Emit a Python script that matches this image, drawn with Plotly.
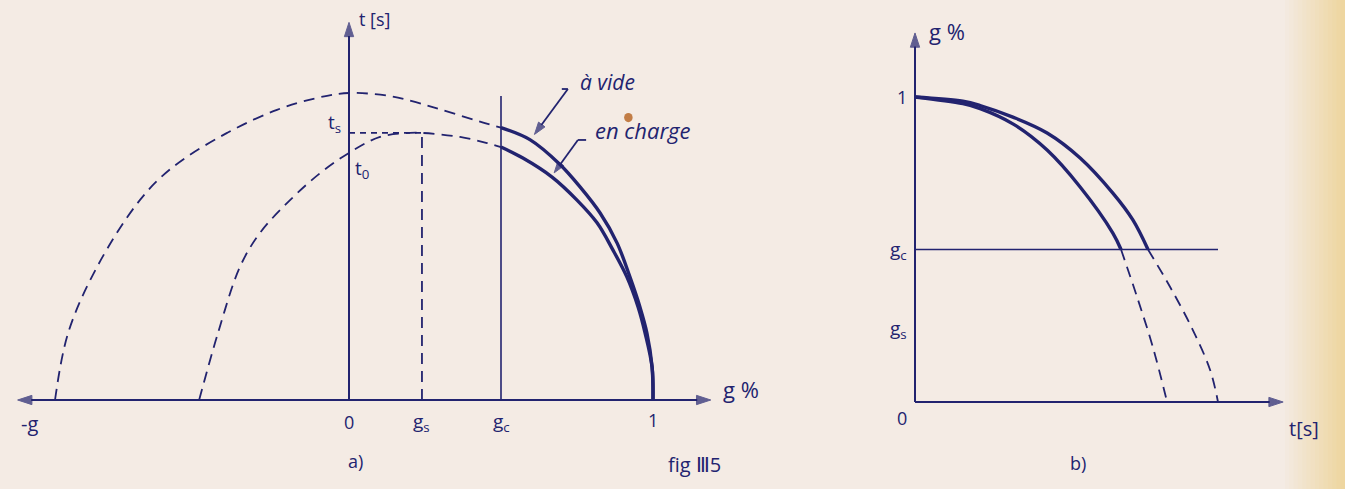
import plotly.graph_objects as go

# ---------------------------------------------------------------- data
# characteristic values (g in per-unit slip, t in relative time units)
G_S = 0.24      # g_s
G_C = 0.50      # g_c
T_S = 0.870     # t_s
T_0 = 0.805     # t_0

# a) t = f(g) -- "à vide"
a_vide_g = [-0.967, -0.924, -0.829, -0.688, -0.579, -0.401, -0.237, -0.105, 0.0,
            0.135, 0.22, 0.299, 0.447, 0.50, 0.595, 0.694, 0.760, 0.826, 0.882,
            0.924, 0.957, 0.980, 0.997, 1.0]
a_vide_t = [0.0, 0.218, 0.433, 0.651, 0.759, 0.870, 0.945, 0.984, 1.0,
            0.990, 0.970, 0.947, 0.902, 0.887, 0.848, 0.767, 0.694, 0.609, 0.511,
            0.401, 0.303, 0.218, 0.107, 0.0]

# a) t = f(g) -- "en charge"
a_charge_g = [-0.493, -0.431, -0.359, -0.293, -0.194, -0.095, 0.0, 0.102, 0.201, 0.24,
              0.365, 0.454, 0.50, 0.572, 0.668, 0.750, 0.816, 0.868, 0.914, 0.951,
              0.974, 0.997, 1.0]
a_charge_t = [0.0, 0.218, 0.433, 0.544, 0.651, 0.739, 0.805, 0.857, 0.870, 0.870,
              0.857, 0.837, 0.824, 0.788, 0.726, 0.651, 0.577, 0.489, 0.401, 0.303,
              0.218, 0.107, 0.0]

# b) g = f(t) -- "à vide"
b_vide_t = [0.0, 0.158, 0.215, 0.323, 0.436, 0.545, 0.653, 0.719, 0.769, 0.842, 0.917, 0.974, 1.0]
b_vide_g = [1.0, 0.986, 0.972, 0.934, 0.882, 0.800, 0.685, 0.597, 0.50, 0.377, 0.236, 0.105, 0.0]

# b) g = f(t) -- "en charge"
b_charge_t = [0.0, 0.158, 0.215, 0.323, 0.436, 0.545, 0.653, 0.680, 0.733, 0.785, 0.832]
b_charge_g = [1.0, 0.978, 0.962, 0.912, 0.826, 0.705, 0.554, 0.50, 0.344, 0.180, 0.0]

# ---------------------------------------------------------------- style
W, H = 1345, 489
INK = "#22236f"
PAPER = "#f4ebe4"
FONT = "Open Sans"
DASH = "11px,7px"

# pixel placement of each panel's origin and scale
A_X0, A_Y0, A_GX, A_TY = 349, 400, 304, 307      # panel a)
B_X0, B_Y0, B_TX, B_GY = 915, 402, 303, 305      # panel b)


def split(xs, ys, key, limit):
    """Split a curve into the part with key <= limit and the part with key >= limit."""
    lo = [(x, y) for x, y, k in zip(xs, ys, key) if k <= limit]
    hi = [(x, y) for x, y, k in zip(xs, ys, key) if k >= limit]
    return lo, hi


fig = go.Figure()


def curve(pts, axes, width, dash=None):
    xs, ys = zip(*pts)
    fig.add_trace(go.Scatter(
        x=list(xs), y=list(ys), mode="lines", xaxis=axes[0], yaxis=axes[1],
        line=dict(color=INK, width=width, dash=dash or "solid", shape="spline", smoothing=1.0),
        hoverinfo="skip", showlegend=False))


def seg(xs, ys, axes=("x", "y"), width=1.6, dash="solid"):
    fig.add_trace(go.Scatter(x=xs, y=ys, mode="lines", xaxis=axes[0], yaxis=axes[1],
                             line=dict(color=INK, width=width, dash=dash),
                             hoverinfo="skip", showlegend=False))


def arrow(x0, y0, x1, y1, axes=("x", "y"), width=2.0, head=15):
    """Straight line from (x0, y0) to (x1, y1) ending in an arrowhead."""
    fig.add_trace(go.Scatter(
        x=[x0, x1], y=[y0, y1], mode="lines+markers", xaxis=axes[0], yaxis=axes[1],
        line=dict(color=INK, width=width),
        marker=dict(symbol=["circle", "arrow"], size=[0, head], color=INK,
                    angleref="previous", line=dict(width=1, color=INK)),
        hoverinfo="skip", showlegend=False))


# panel a): dashed below g_c, solid above g_c
for gs, ts in ((a_vide_g, a_vide_t), (a_charge_g, a_charge_t)):
    lo, hi = split(gs, ts, gs, G_C)
    curve(lo, ("x", "y"), 1.8, DASH)
    curve(hi, ("x", "y"), 3.4)

# panel b): solid above g_c, dashed below
for tt, gg in ((b_vide_t, b_vide_g), (b_charge_t, b_charge_g)):
    lo, hi = split(tt, gg, gg, G_C)
    curve(hi, ("x2", "y2"), 3.4)
    curve(lo, ("x2", "y2"), 1.8, DASH)

# construction lines in panel a)
seg([G_S, G_S], [0, T_S], width=1.8, dash=DASH)
seg([0, G_S], [T_S, T_S], width=1.8, dash="6px,5px")
seg([G_C, G_C], [0, 0.99])

# g_c level in panel b)
seg([0, 1.0], [G_C, G_C], axes=("x2", "y2"))

# ---------------------------------------------------------------- axes with arrows
arrow(0, 0, 1.19, 0)                        # g axis (a), to the right
arrow(0, 0, -1.09, 0)                       # -g direction
arrow(0, 0, 0, 1.23)                        # t axis (a)
arrow(0, 0, 1.215, 0, ("x2", "y2"))         # t axis (b)
arrow(0, 0, 0, 1.21, ("x2", "y2"))          # g axis (b)

# leader arrows to the curves
seg([0.70, 0.72], [1.013, 1.013], width=1.8)
arrow(0.72, 1.013, 0.61, 0.865, width=1.8, head=13)
seg([0.753, 0.78], [0.847, 0.847], width=1.8)
arrow(0.753, 0.847, 0.675, 0.74, width=1.8, head=12)

ann = []


def text(s, x, y, xr="x", yr="y", size=18, xa="center", ya="middle", dx=0, dy=0, italic=False):
    ann.append(dict(text=s, x=x, y=y, xref=xr, yref=yr, showarrow=False,
                    xanchor=xa, yanchor=ya, xshift=dx, yshift=dy,
                    font=dict(family=FONT, size=size, color=INK,
                              style="italic" if italic else "normal")))


# panel a) labels
text("-g", -1.05, 0, ya="top", dy=-8, size=20)
text("0", 0, 0, ya="top", dy=-8)
text("g<sub>s</sub>", G_S, 0, ya="top", dy=-6, size=19)
text("g<sub>c</sub>", G_C, 0, ya="top", dy=-6, size=19)
text("1", 1.0, 0, ya="top", dy=-6)
text("g %", 1.29, 0, xa="center", dy=11, size=22)
text("t [s]", 0, 1.255, xa="left", dx=8, dy=-4, size=18)
text("t<sub>s</sub>", 0, T_S, xa="right", dx=-6, dy=10, size=19)
text("t<sub>0</sub>", 0, T_0, xa="left", dx=4, dy=-16, size=19)
text("à vide", 0.849, 1.036, size=21, italic=True)
text("en charge", 0.966, 0.879, size=22, italic=True)
text("a)", 0.02, -0.2, size=18)
text("fig Ⅲ5", 1.135, -0.21, size=20)

# panel b) labels
text("1", 0, 1.0, "x2", "y2", xa="right", dx=-6)
text("g<sub>c</sub>", 0, G_C, "x2", "y2", xa="right", dx=-6, size=19)
text("g<sub>s</sub>", 0, G_S, "x2", "y2", xa="right", dx=-6, size=19)
text("0", 0, 0, "x2", "y2", xa="right", ya="top", dx=-6, dy=-2)
text("g %", 0, 1.236, "x2", "y2", xa="left", dx=12, dy=-6, size=22)
text("t[s]", 1.285, 0, "x2", "y2", xa="center", ya="top", dy=-11, size=20)
text("b)", 0.538, -0.2, "x2", "y2", size=18)

# ---------------------------------------------------------------- paper tint
shapes = []
strips = 14
for i in range(strips):
    f = (i + 1) / strips
    r = int(244 + (238 - 244) * f)
    g = int(235 + (214 - 235) * f)
    b = int(228 + (160 - 228) * f)
    x0 = 1285 + i * (W - 1285) / strips
    shapes.append(dict(type="rect", xref="paper", yref="paper", layer="below",
                       x0=x0 / W, x1=(x0 + (W - 1285) / strips + 1) / W, y0=0, y1=1,
                       line=dict(width=0), fillcolor=f"rgb({r},{g},{b})"))
# small ink stain next to "en charge"
shapes.append(dict(type="circle", xref="x", yref="y", x0=0.905, x1=0.933, y0=0.905, y1=0.935,
                   line=dict(width=0), fillcolor="#b86a2a", opacity=0.85))

# ---------------------------------------------------------------- layout


def axis(lo_px, hi_px, origin, scale, reverse=False, **kw):
    if reverse:
        rng = [(origin - hi_px) / scale, (origin - lo_px) / scale]
    else:
        rng = [(lo_px - origin) / scale, (hi_px - origin) / scale]
    return dict(range=rng, visible=False, showgrid=False, zeroline=False, fixedrange=True, **kw)


fig.update_layout(
    width=W, height=H,
    margin=dict(l=0, r=0, t=0, b=0),
    paper_bgcolor=PAPER, plot_bgcolor="rgba(0,0,0,0)",
    xaxis=axis(0, W, A_X0, A_GX, domain=[0, 1]),
    yaxis=axis(0, H, A_Y0, A_TY, reverse=True, domain=[0, 1]),
    xaxis2=axis(0, W, B_X0, B_TX, domain=[0, 1], anchor="y2", overlaying="x"),
    yaxis2=axis(0, H, B_Y0, B_GY, reverse=True, domain=[0, 1], anchor="x2", overlaying="y"),
    annotations=ann, shapes=shapes, showlegend=False,
)

fig.write_html("out.html", config=dict(displayModeBar=False, staticPlot=True))
